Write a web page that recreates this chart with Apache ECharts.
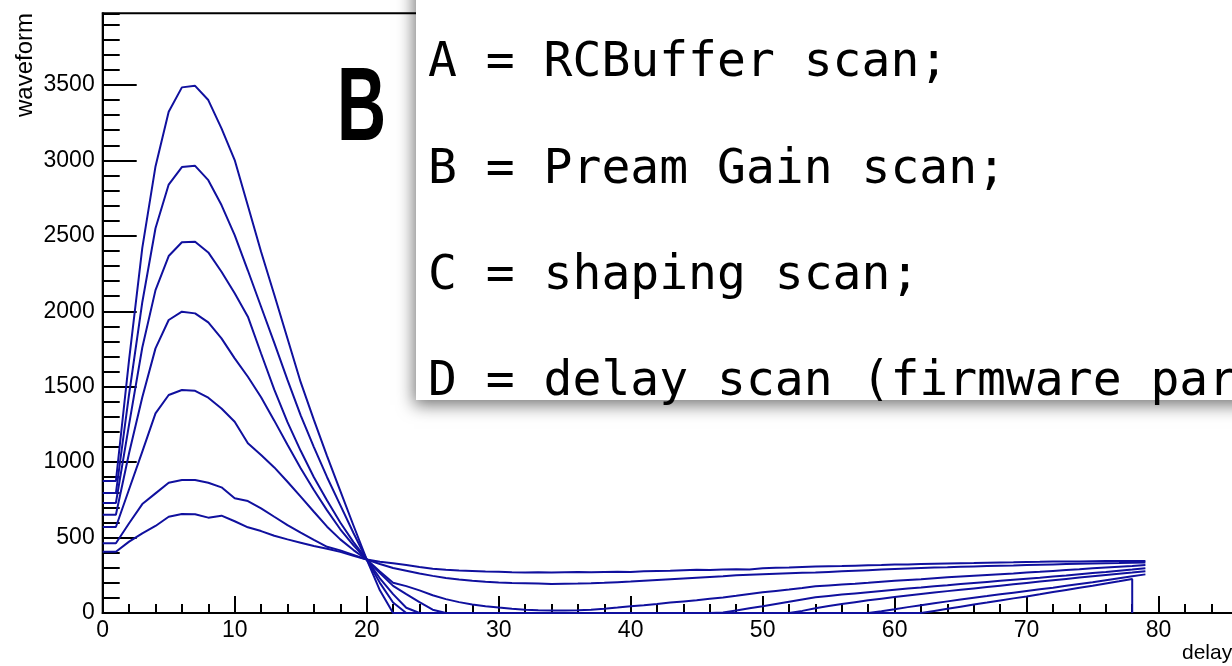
<!DOCTYPE html>
<html>
<head>
<meta charset="utf-8">
<script src="https://cdn.jsdelivr.net/npm/echarts@6/dist/echarts.min.js"></script>
<style>
html,body{margin:0;padding:0;background:#fff;}
#chart{width:1232px;height:666px;}
</style>
</head>
<body>
<div id="chart"></div>
<script>
// waveform values, index = delay (0,1,2,...)
const c1 = [875,875,1680,2420,2960,3322,3484,3494,3400,3212,3002,2700,2395,2110,1820,1530,1280,1040,810,580,355,150,0,0,0,0,0,0,0,0,0,0,0,0,0,0,0,0,0,0,0,0,0,0,0,0,0,0,0,0,0,0,0,0,0,0,0,0,0,0,0,0,0,14,28,42,56,69,83,97,110,124,139,153,167,181,196,210,225];
const c1Drop = [78, 0];
const c2 = [795,795,1450,2060,2550,2840,2956,2964,2869,2704,2505,2270,2030,1790,1545,1310,1100,900,715,530,355,200,70,0,0,0,0,0,0,0,0,0,0,0,0,0,0,0,0,0,0,0,0,0,0,0,0,0,0,0,0,0,0,0,0,0,0,0,0,12,25,39,52,65,77,89,101,112,124,135,146,157,168,180,192,204,217,230,243,256];
const c3 = [729,729,1250,1760,2140,2366,2457,2461,2390,2262,2119,1964,1720,1480,1265,1075,900,745,600,470,355,230,125,35,0,0,0,0,0,0,0,0,0,0,0,0,0,0,0,0,0,0,0,0,0,0,0,0,0,0,0,0,0,14,32,47,60,72,84,95,106,116,126,136,145,154,163,172,181,190,199,208,217,226,235,244,252,260,268,277];
const c4 = [651,651,1060,1430,1754,1942,1997,1986,1926,1820,1688,1566,1430,1275,1115,960,815,680,555,448,355,265,180,125,72,22,0,0,0,0,0,0,0,0,0,0,0,0,0,0,0,0,0,0,0,0,0,3,17,31,45,60,75,90,104,113,122,130,138,146,154,162,169,177,184,192,199,206,213,220,227,234,242,249,257,265,272,280,288,297];
const c5 = [570,570,820,1070,1323,1445,1478,1473,1427,1356,1268,1125,1047,965,870,771,671,572,488,417,355,275,200,178,150,118,92,72,57,45,36,28,22,19,17,16,18,22,28,36,45,52,60,69,77,85,94,103,114,126,137,146,155,165,177,183,189,194,200,207,213,219,224,231,237,242,247,252,257,262,268,273,279,285,290,296,302,307,312,318];
const c6 = [462,462,595,722,793,863,881,881,863,833,760,742,694,638,583,532,484,439,415,385,355,325,298,280,262,246,232,222,213,207,202,199,197,195,193,194,195,197,200,204,208,214,219,224,229,234,239,244,250,254,257,260,263,266,268,272,276,280,284,288,292,295,298,301,303,306,309,311,313,315,318,320,322,324,326,328,330,331,333,334];
const c7 = [406,406,473,528,577,638,656,654,632,645,608,568,543,512,488,466,444,426,405,380,355,340,330,318,305,293,286,281,278,275,273,270,268,270,268,270,271,270,272,274,272,276,279,280,284,286,285,288,290,289,296,300,302,305,308,310,311,314,316,318,321,322,324,326,328,330,331,333,335,336,338,339,341,341,342,343,344,345,344,345];

const yMax = 3975;
const xMax = 92;
const boxLines = [
  'A = RCBuffer scan;',
  'B = Pream Gain scan;',
  'C = shaping scan;',
  'D = delay scan (firmware parameter);'
];
const panelLetter = 'B';
const yTitle = 'waveform';
const xTitle = 'delay';

function toPairs(arr){ return arr.map((v,i)=>[i,v]); }
const seriesValues = [c1,c2,c3,c4,c5,c6,c7];
const lineColor = '#10109e';

const series = seriesValues.map((arr, k) => {
  const d = toPairs(arr);
  if (k === 0) d.push(c1Drop);
  return {
    type: 'line', data: d, xAxisIndex: 0, yAxisIndex: 0,
    showSymbol: false, symbol: 'none', smooth: false, clip: true,
    lineStyle: {color: lineColor, width: 2}, z: 3
  };
});

const labelFont = {color:'#000', fontSize:23, fontFamily:'"Liberation Sans", Arial, sans-serif', formatter: v => String(v)};

const chart = echarts.init(document.getElementById('chart'), null, {renderer:'canvas'});
chart.setOption({
  animation: false,
  backgroundColor: '#fff',
  grid: {left: 102.7, top: 13.3, right: -85, bottom: 53, show: true, borderColor:'#000', borderWidth: 2,
         backgroundColor:'transparent', containLabel:false, outerBoundsMode:'none'},
  xAxis: [{
    type:'value', min:0, max:xMax, interval:10,
    axisLine:{show:true, onZero:false, lineStyle:{color:'#000', width:2}},
    axisTick:{show:true, inside:true, length:17, lineStyle:{color:'#000', width:2}},
    minorTick:{show:true, splitNumber:5, length:9, lineStyle:{color:'#000', width:2}},
    axisLabel:Object.assign({margin:6, showMaxLabel:false}, labelFont),
    splitLine:{show:false}
  }],
  yAxis: [{
    type:'value', min:0, max:yMax, interval:500, position:'left', offset:0,
    axisLine:{show:true, onZero:false, lineStyle:{color:'#000', width:2}},
    axisTick:{show:true, inside:true, length:34, lineStyle:{color:'#000', width:2}},
    axisLabel:Object.assign({margin:8, showMaxLabel:false}, labelFont),
    splitLine:{show:false}
  },{
    type:'value', min:0, max:yMax, interval:100, position:'left', offset:0,
    axisLine:{show:false},
    axisTick:{show:true, inside:true, length:17, lineStyle:{color:'#000', width:2}},
    axisLabel:{show:false},
    splitLine:{show:false}
  }],
  series: series,
  graphic: [
    {type:'text', x:25, y:13, rotation:Math.PI/2, z:50,
     style:{text:yTitle, fill:'#000', fontSize:24, fontFamily:'"Liberation Sans", Arial, sans-serif',
            textAlign:'right', align:'right', textVerticalAlign:'middle', verticalAlign:'middle'}},
    {type:'text', x:1182, y:653, z:50,
     style:{text:xTitle, fill:'#000', fontSize:21, fontFamily:'"Liberation Sans", Arial, sans-serif',
            textAlign:'left', align:'left', textVerticalAlign:'middle', verticalAlign:'middle'}},
    {type:'text', x:361.5, y:112, scaleX:0.66, z:50,
     style:{text:panelLetter, fill:'#000', fontSize:103, fontWeight:'bold', fontFamily:'"Liberation Sans", Arial, sans-serif',
            textAlign:'center', align:'center', textVerticalAlign:'middle', verticalAlign:'middle'}},
    {type:'rect', z:100, shape:{x:416, y:-30, width:900, height:430},
     style:{fill:'#fff', shadowBlur:16, shadowColor:'rgba(0,0,0,0.55)', shadowOffsetX:-2, shadowOffsetY:5}},
    ...boxLines.map((t,i)=>({type:'text', x:428, y:64 + i*106.3, z:101,
     style:{text:t, fill:'#000', fontSize:48, fontFamily:'"DejaVu Sans Mono", monospace',
            textAlign:'left', align:'left', textVerticalAlign:'middle', verticalAlign:'middle'}}))
  ]
});
</script>
</body>
</html>
